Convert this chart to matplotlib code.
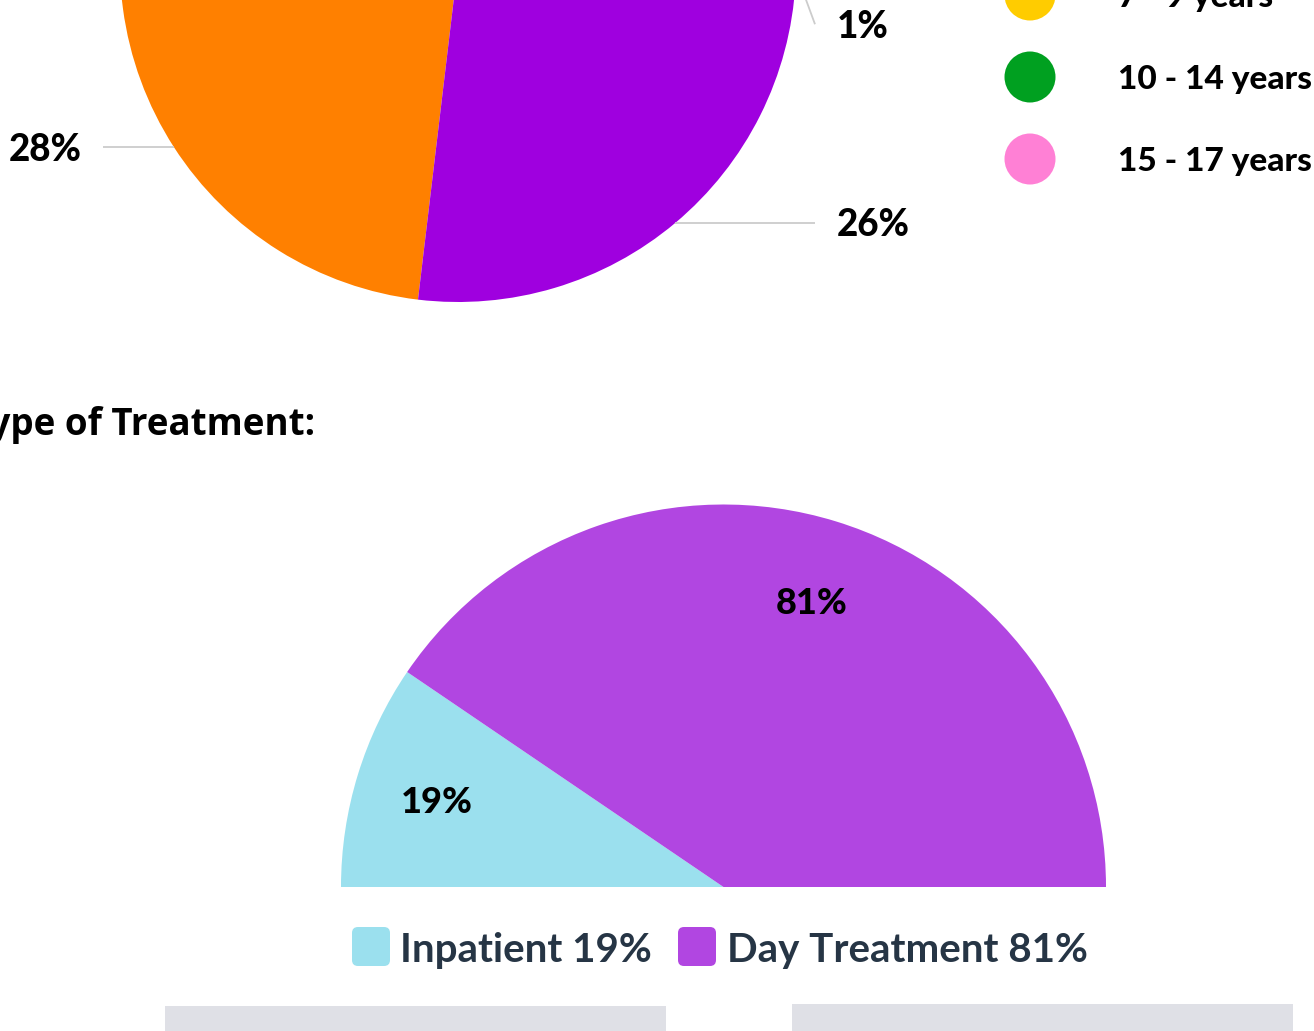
import numpy as np
import matplotlib
matplotlib.use("Agg")
import matplotlib.pyplot as plt
from matplotlib.patches import FancyBboxPatch, Circle, Rectangle

# ---------------- data ----------------
age_groups = ["0 - 3 years", "4 - 6 years", "7 - 9 years", "10 - 14 years", "15 - 17 years"]
age_values = [28, 26, 1, 25, 20]
age_colors = ["#FF8000", "#9F00DF", "#FFCC00", "#00A020", "#FF80D5"]

treat_labels = ["Inpatient", "Day Treatment"]
treat_values = [19, 81]
treat_colors = ["#9BE0EE", "#B146E1"]

title_text = "Type of Treatment:"

# ---------------- figure ----------------
W, H = 1314, 1031
fig = plt.figure(figsize=(W / 100, H / 100), dpi=100)
fig.patch.set_facecolor("white")
ax = fig.add_axes([0, 0, 1, 1])

def Y(y):  # image row -> data y
    return H - y

HEAVY = dict(family=["Lato", "DejaVu Sans"], fontweight=900)
BOLD = dict(family=["Lato", "DejaVu Sans"], fontweight="bold")

# ---------------- top pie ----------------
cx1, cy1, r1 = 458, Y(-36), 338
start1 = 162.4
wedges, _ = ax.pie(age_values, colors=age_colors, startangle=start1, counterclock=True,
                   radius=r1, center=(cx1, cy1), wedgeprops=dict(linewidth=0))

label_dy = [0, 0, 52, 0, 0]   # vertical shift of labels to avoid collisions
cum = 0
for i, v in enumerate(age_values):
    mid = np.deg2rad(start1 + (cum + v / 2) / sum(age_values) * 360)
    cum += v
    ex, ey = cx1 + r1 * np.cos(mid), cy1 + r1 * np.sin(mid)
    ly = ey - label_dy[i]
    if ly > H + 10:          # label lies above the visible page area
        continue
    if np.cos(mid) < 0:
        conn_x = cx1 - r1 - 17
        tx, ha = conn_x - 21, "right"
    else:
        conn_x = cx1 + r1 + 19
        tx, ha = conn_x + 22, "left"
    ax.plot([ex, conn_x], [ey, ly], color="#cccccc", lw=1.3, solid_capstyle="butt")
    ax.text(tx, ly - 13.5, f"{v}%", ha=ha, va="baseline", fontsize=26.5, color="#000000", **HEAVY)

# legend for the age pie (circle markers)
leg_x, leg_y0, leg_dy = 1030, -5 - 2 * 82, 82
for i, (lab, col) in enumerate(zip(age_groups, age_colors)):
    yy = leg_y0 + i * leg_dy
    if yy < -60:
        continue
    ax.add_patch(Circle((leg_x, Y(yy)), 25.5, color=col, lw=0))
    ax.text(1118, Y(yy + 11.5), lab, ha="left", va="baseline", fontsize=24,
            color="#000000", **HEAVY)

# ---------------- section title ----------------
ax.text(315, Y(435), title_text, ha="right", va="baseline", fontsize=26.5,
        color="#000000", family=["Open Sans", "DejaVu Sans"], fontweight="bold")

# ---------------- semi-circle pie ----------------
cx2, cy2, r2 = 723.5, Y(887), 382.5
vals2 = treat_values + [sum(treat_values)]
w2, _ = ax.pie(vals2, colors=treat_colors + ["white"], startangle=180, counterclock=False,
               radius=r2, center=(cx2, cy2), wedgeprops=dict(linewidth=0))
w2[-1].set_visible(False)

cum = 0
for v in treat_values:
    mid = np.deg2rad(180 - (cum + v / 2) / sum(treat_values) * 180)
    cum += v
    lx, ly = cx2 + 300 * np.cos(mid), cy2 + 300 * np.sin(mid)
    ax.text(lx, ly - 14, f"{v}%", ha="center", va="baseline", fontsize=26,
            color="#000000", **HEAVY)

# legend for treatment
leg2 = [(352, 400), (678, 727)]
for (sx, tx), lab, v, col in zip(leg2, treat_labels, treat_values, treat_colors):
    ax.add_patch(FancyBboxPatch((sx + 4, Y(966) + 4), 30, 31,
                                boxstyle="round,pad=4,rounding_size=6",
                                fc=col, ec="none"))
    ax.text(tx, Y(962), f"{lab} {v}%", ha="left", va="baseline", fontsize=29,
            color="#263545", **BOLD)

# gray blocks at the bottom of the page
ax.add_patch(Rectangle((165, 0), 501, Y(1006), fc="#DFE0E6", ec="none"))
ax.add_patch(Rectangle((792, 0), 501, Y(1004), fc="#DFE0E6", ec="none"))

ax.set_xlim(0, W)
ax.set_ylim(0, H)
ax.set_aspect("auto")
ax.axis("off")

fig.savefig("out.png", dpi=100, facecolor="white")
